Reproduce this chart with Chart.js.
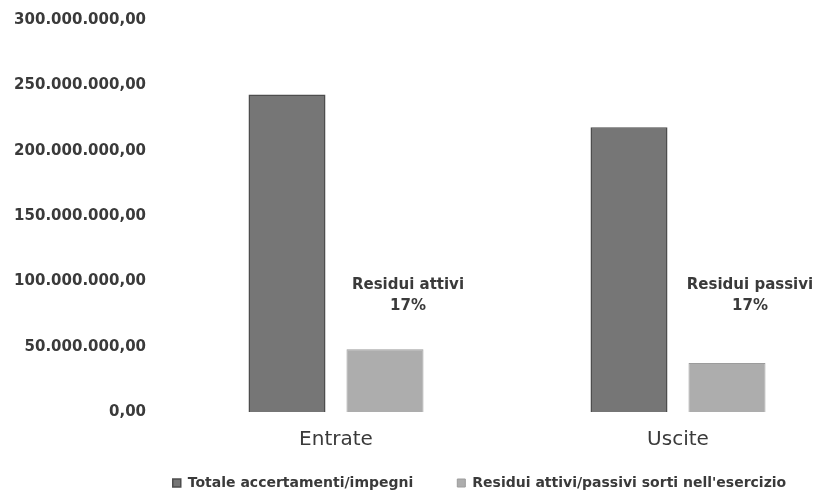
<!DOCTYPE html>
<html>
<head>
<meta charset="utf-8">
<script src="https://cdn.jsdelivr.net/npm/chart.js@4/dist/chart.umd.min.js"></script>
<style>
  html, body { margin: 0; padding: 0; background: #fff; overflow: hidden; }
  #wrap { width: 860px; height: 500px; }
</style>
</head>
<body>
<div id="wrap"><canvas id="chart"></canvas></div>
<script>
  // ── Data ──
  const categories = ["Entrate", "Uscite"];
  const totali = [243000000, 218000000];     // Totale accertamenti/impegni
  const residui = [48000000, 37500000];      // Residui attivi/passivi sorti nell'esercizio
  const residuiLabels = [["Residui attivi", "17%"], ["Residui passivi", "17%"]];
  const seriesNames = ["Totale accertamenti/impegni", "Residui attivi/passivi sorti nell'esercizio"];

  const TEXT = "#3a3a3a";
  const FONT = "'DejaVu Sans', sans-serif";

  function fmt(v) {
    var s = Math.round(v).toString().replace(/\B(?=(\d{3})+(?!\d))/g, ".");
    return s + ",00";
  }

  // draws the "Residui ... 17%" notes beside the light bars
  const notesPlugin = {
    id: "notes",
    afterDatasetsDraw: function (chart) {
      const ctx = chart.ctx;
      const meta = chart.getDatasetMeta(1);
      const y = chart.scales.y.getPixelForValue(97000000);
      ctx.save();
      ctx.fillStyle = TEXT;
      ctx.font = "bold 15px " + FONT;
      ctx.textAlign = "center";
      ctx.textBaseline = "middle";
      meta.data.forEach(function (bar, i) {
        const lines = residuiLabels[i];
        const x = bar.x + 23;
        ctx.fillText(lines[0], x, y);
        ctx.fillText(lines[1], x, y + 21);
      });
      ctx.restore();
    }
  };

  // nudge the legend: centred a bit to the right and up, as in the original
  const legendShift = {
    id: "legendShift",
    afterLayout: function (chart) {
      const lg = chart.legend;
      if (!lg) return;
      lg.left += 55; lg.right += 55;
      lg.top -= 28;
    }
  };

  new Chart(document.getElementById("chart"), {
    type: "bar",
    data: {
      labels: categories,
      datasets: [{
        label: seriesNames[0],
        data: totali,
        backgroundColor: "#767676",
        borderColor: "#4d4d4d",
        borderWidth: 1.5,
      }, {
        label: seriesNames[1],
        data: residui,
        backgroundColor: "#adadad",
        borderColor: "#9c9c9c",
        borderWidth: 1,
      }]
    },
    options: {
      responsive: true,
      maintainAspectRatio: false,
      animation: false,
      categoryPercentage: 0.573,
      barPercentage: 0.786,
      layout: { padding: { top: 20, bottom: 0, left: 0, right: 11 } },
      plugins: {
        tooltip: { enabled: false },
        legend: {
          position: "bottom",
          maxHeight: 40,
          labels: {
            color: TEXT,
            font: { family: FONT, size: 14, weight: "bold" },
            boxWidth: 8,
            boxHeight: 8,
            padding: 44,
          }
        }
      },
      scales: {
        x: {
          grid: { display: false, drawTicks: false },
          border: { display: false },
          ticks: { color: TEXT, font: { family: FONT, size: 20 }, padding: 16 },
          afterFit: function (s) { s.height = 48; }
        },
        y: {
          min: 0,
          max: 300000000,
          grid: { display: false, drawTicks: false },
          border: { display: false },
          ticks: {
            stepSize: 50000000,
            color: TEXT,
            font: { family: FONT, size: 15, weight: "bold" },
            padding: 19,
            callback: function (v) { return fmt(v); }
          },
          afterFit: function (s) {
            s.width = 165;
            s.paddingTop = 0;
            s.paddingBottom = 0;
          }
        }
      }
    },
    plugins: [notesPlugin, legendShift]
  });
</script>
</body>
</html>
